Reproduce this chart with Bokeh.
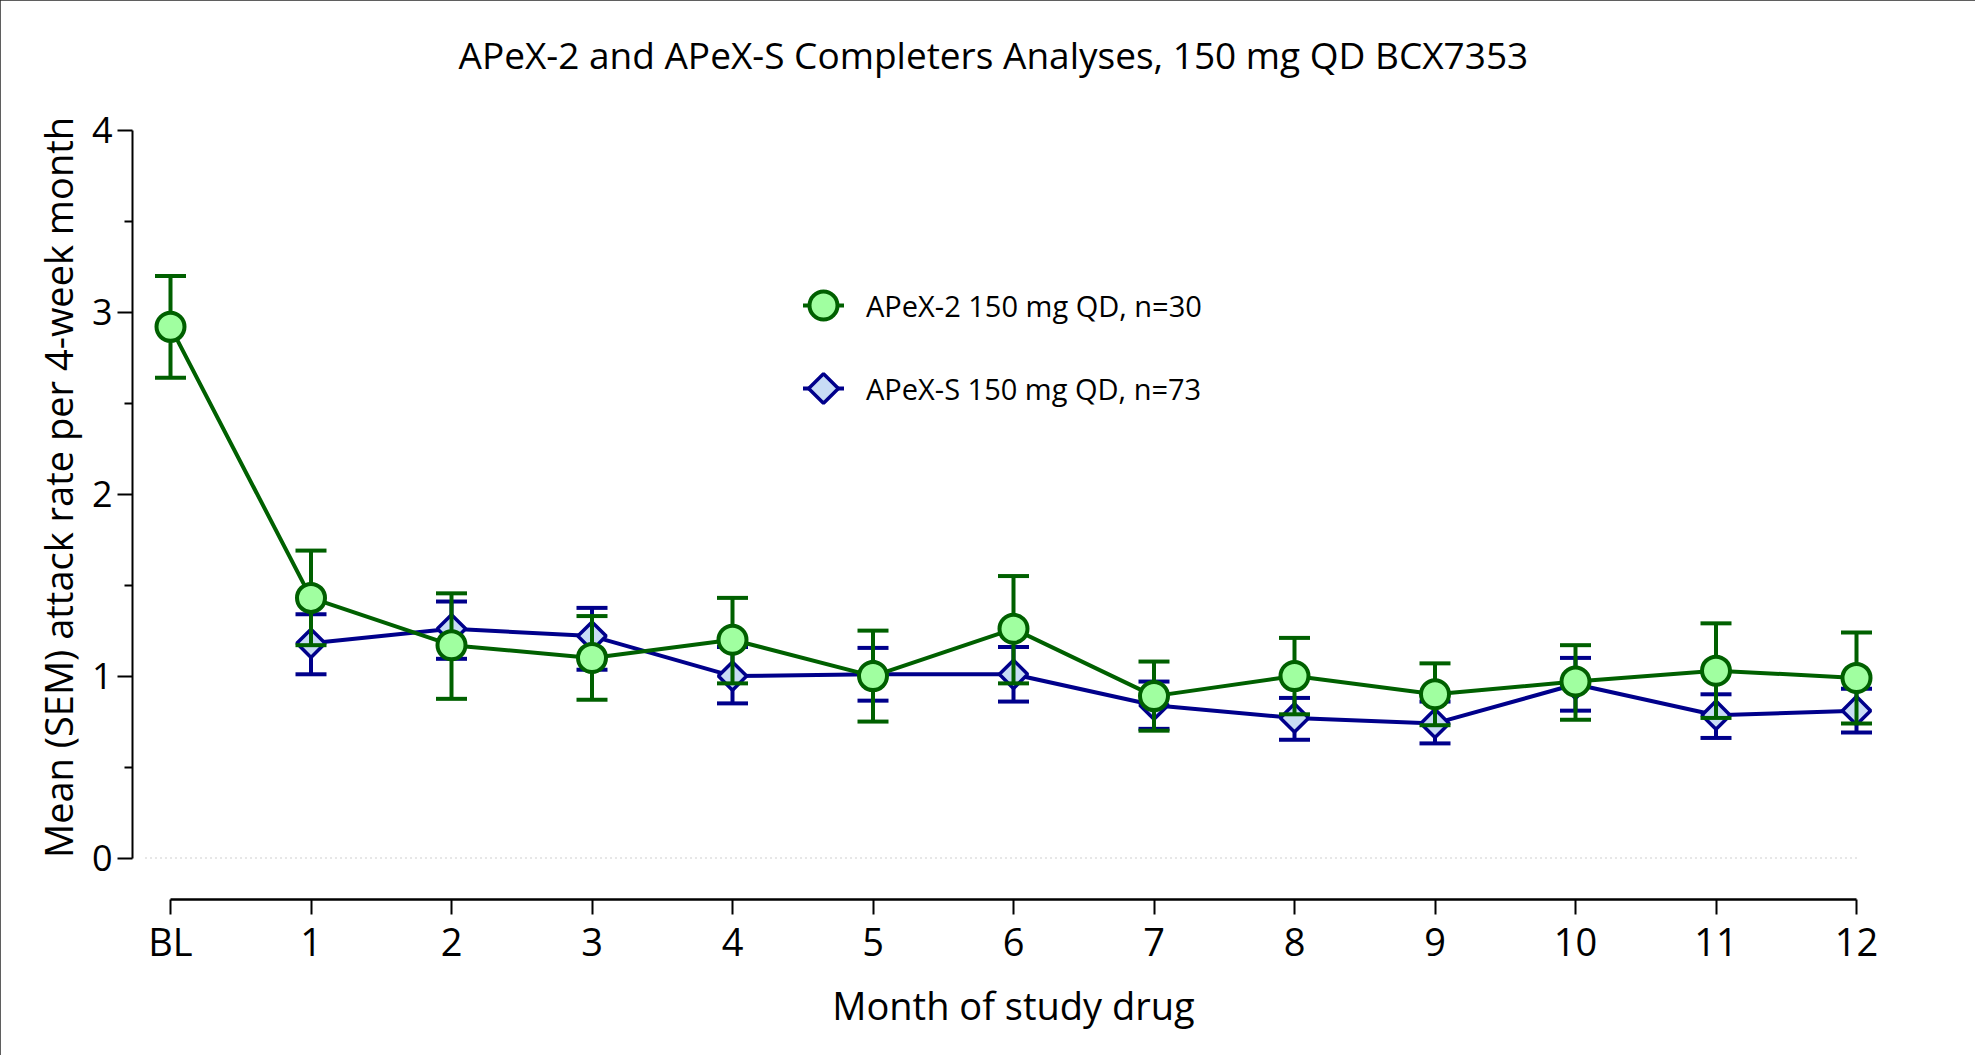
from bokeh.plotting import figure
from bokeh.models import (ColumnDataSource, FixedTicker, Legend, LegendItem, Range1d)
from bokeh.embed import file_html
from bokeh.resources import INLINE
import math

# ---------------- data ----------------
month_labels = ["BL", "1", "2", "3", "4", "5", "6", "7", "8", "9", "10", "11", "12"]
month_x = [0, 1, 2, 3, 4, 5, 6, 7, 8, 9, 10, 11, 12]

apex2_x = [0, 1, 2, 3, 4, 5, 6, 7, 8, 9, 10, 11, 12]
apex2_mean = [2.92, 1.43, 1.17, 1.10, 1.20, 1.00, 1.26, 0.89, 1.00, 0.90, 0.97, 1.03, 0.99]
apex2_upper = [3.20, 1.69, 1.455, 1.33, 1.43, 1.25, 1.55, 1.08, 1.21, 1.07, 1.17, 1.29, 1.24]
apex2_lower = [2.64, 1.17, 0.875, 0.87, 0.96, 0.75, 0.96, 0.70, 0.79, 0.73, 0.76, 0.77, 0.74]

apexs_x = [1, 2, 3, 4, 5, 6, 7, 8, 9, 10, 11, 12]
apexs_mean = [1.18, 1.26, 1.22, 1.00, 1.01, 1.01, 0.84, 0.77, 0.74, 0.955, 0.785, 0.81]
apexs_upper = [1.34, 1.41, 1.375, 1.16, 1.155, 1.16, 0.97, 0.88, 0.86, 1.10, 0.90, 0.93]
apexs_lower = [1.01, 1.095, 1.035, 0.85, 0.865, 0.86, 0.71, 0.65, 0.63, 0.81, 0.66, 0.69]

y_ticks = [0, 1, 2, 3, 4]
y_minor_ticks = [0.5, 1.5, 2.5, 3.5]

title_text = "APeX-2 and APeX-S Completers Analyses, 150 mg QD BCX7353"
x_title = "Month of study drug"
y_title = "Mean (SEM) attack rate per 4-week month"
label_apex2 = "APeX-2 150 mg QD, n=30"
label_apexs = "APeX-S 150 mg QD, n=73"

# ---------------- styles / layout ----------------
GREEN = "#006000"
GREEN_FILL = "#a0ffa0"
NAVY = "#00008b"
BLUE_FILL = "#c8dcf5"
FONT = "Open Sans"

W, H = 1975, 1055
ML, MR, MT, MB = 132, 81, 75, 156
frame_w = W - ML - MR
frame_h = H - MT - MB
px_per_month = 140.5
px_per_unit = 181.9
x0 = -38 / px_per_month
y0 = -41.5 / px_per_unit


def sx_to_data(px):
    """screen x (from figure left) -> data x"""
    return x0 + (px - ML) / px_per_month


def sy_to_data(py):
    """screen y (from figure top) -> data y"""
    return y0 + (H - MB - py) / px_per_unit


p = figure(width=W, height=H, output_backend="svg", toolbar_location=None,
           x_range=Range1d(x0, x0 + frame_w / px_per_month),
           y_range=Range1d(y0, y0 + frame_h / px_per_unit),
           min_border_left=ML, min_border_right=MR, min_border_top=MT, min_border_bottom=MB,
           title=title_text)
p.styles = {"outline": "2px solid #2a2a2a", "outline-offset": "-2px"}
p.background_fill_color = "white"
p.border_fill_color = "white"
p.outline_line_color = None
p.xgrid.grid_line_color = None
p.ygrid.grid_line_color = None

p.title.align = "left"
p.title.offset = 326
p.title.text_font = FONT
p.title.text_font_size = "37px"
p.title.text_font_style = "normal"
p.title.text_color = "black"
p.title.standoff = -8

# axes
xa = p.xaxis[0]
xa.ticker = FixedTicker(ticks=month_x)
xa.major_label_overrides = {x: lab for x, lab in zip(month_x, month_labels)}
xa.bounds = (month_x[0], month_x[-1])
xa.axis_line_width = 2.5
xa.axis_line_color = "black"
xa.major_tick_line_width = 2
xa.major_tick_line_color = "black"
xa.major_tick_out = 15
xa.major_tick_in = 0
xa.minor_tick_line_color = None
xa.major_label_text_font = FONT
xa.major_label_text_font_size = "38px"
xa.major_label_text_color = "black"
xa.major_label_standoff = 0
xa.axis_label = x_title
xa.axis_label_text_font = FONT
xa.axis_label_text_font_size = "38px"
xa.axis_label_text_font_style = "normal"
xa.axis_label_text_color = "black"
xa.axis_label_standoff = 9

ya = p.yaxis[0]
ya.ticker = FixedTicker(ticks=y_ticks, minor_ticks=y_minor_ticks)
ya.bounds = (y_ticks[0], y_ticks[-1])
ya.axis_line_width = 2
ya.axis_line_color = "black"
ya.major_tick_line_width = 2
ya.major_tick_line_color = "black"
ya.major_tick_out = 15
ya.major_tick_in = 0
ya.minor_tick_line_width = 2
ya.minor_tick_line_color = "black"
ya.minor_tick_out = 8
ya.minor_tick_in = 0
ya.major_label_text_font = FONT
ya.major_label_text_font_size = "36px"
ya.major_label_text_color = "black"
ya.major_label_standoff = 5
ya.axis_label = y_title
ya.axis_label_text_font = FONT
ya.axis_label_text_font_size = "38px"
ya.axis_label_text_font_style = "normal"
ya.axis_label_text_color = "black"
ya.axis_label_standoff = 5

# dotted zero reference line, from just right of the y axis to the last month
p.line(x=[x0 + 13 / px_per_month, month_x[-1]], y=[y_ticks[0], y_ticks[0]],
       line_color="#c0c0c0", line_width=1.5, line_dash="1 4")

src2 = ColumnDataSource(dict(x=apex2_x, m=apex2_mean, u=apex2_upper, l=apex2_lower))
srcs = ColumnDataSource(dict(x=apexs_x, m=apexs_mean, u=apexs_upper, l=apexs_lower))

# APeX-S (blue) first
p.segment(x0="x", y0="l", x1="x", y1="u", source=srcs, line_color=NAVY, line_width=4)
p.scatter(x="x", y="u", source=srcs, marker="dash", size=31, line_color=NAVY, line_width=4)
p.scatter(x="x", y="l", source=srcs, marker="dash", size=31, line_color=NAVY, line_width=4)
p.line(x="x", y="m", source=srcs, line_color=NAVY, line_width=4)
p.scatter(x="x", y="m", source=srcs, marker="square", size=20, angle=math.pi / 4,
          fill_color=BLUE_FILL, line_color=NAVY, line_width=3.5)

# APeX-2 (green)
p.segment(x0="x", y0="l", x1="x", y1="u", source=src2, line_color=GREEN, line_width=4)
p.scatter(x="x", y="u", source=src2, marker="dash", size=31, line_color=GREEN, line_width=4)
p.scatter(x="x", y="l", source=src2, marker="dash", size=31, line_color=GREEN, line_width=4)
p.line(x="x", y="m", source=src2, line_color=GREEN, line_width=4)
p.scatter(x="x", y="m", source=src2, marker="circle", size=28,
          fill_color=GREEN_FILL, line_color=GREEN, line_width=4)

# ---------------- legend ----------------
# symbols (a short line stub through a marker), placed in the legend's glyph slots
leg_cx = 823
leg_cy = [305, 388]
stub = 20.5
lx = sx_to_data(leg_cx)
ldx = stub / px_per_month
ly = [sy_to_data(v) for v in leg_cy]

p.segment(x0=[lx - ldx], y0=[ly[0]], x1=[lx + ldx], y1=[ly[0]], line_color=GREEN, line_width=4)
p.scatter(x=[lx], y=[ly[0]], marker="circle", size=28,
          fill_color=GREEN_FILL, line_color=GREEN, line_width=4)
p.segment(x0=[lx - ldx], y0=[ly[1]], x1=[lx + ldx], y1=[ly[1]], line_color=NAVY, line_width=4)
p.scatter(x=[lx], y=[ly[1]], marker="square", size=21, angle=math.pi / 4,
          fill_color=BLUE_FILL, line_color=NAVY, line_width=3.5)

legend = Legend(items=[LegendItem(label=label_apex2, renderers=[]),
                       LegendItem(label=label_apexs, renderers=[])],
                location=(leg_cx - 40 - ML, (H - MB) - (leg_cy[1] + 40)), orientation="vertical",
                glyph_width=80, glyph_height=80, spacing=3, padding=0, margin=0,
                label_standoff=3, label_text_font=FONT, label_text_font_size="29px",
                label_text_color="black", border_line_color=None,
                background_fill_alpha=0)
p.add_layout(legend, "center")

open("out.html", "w").write(file_html(p, INLINE))
